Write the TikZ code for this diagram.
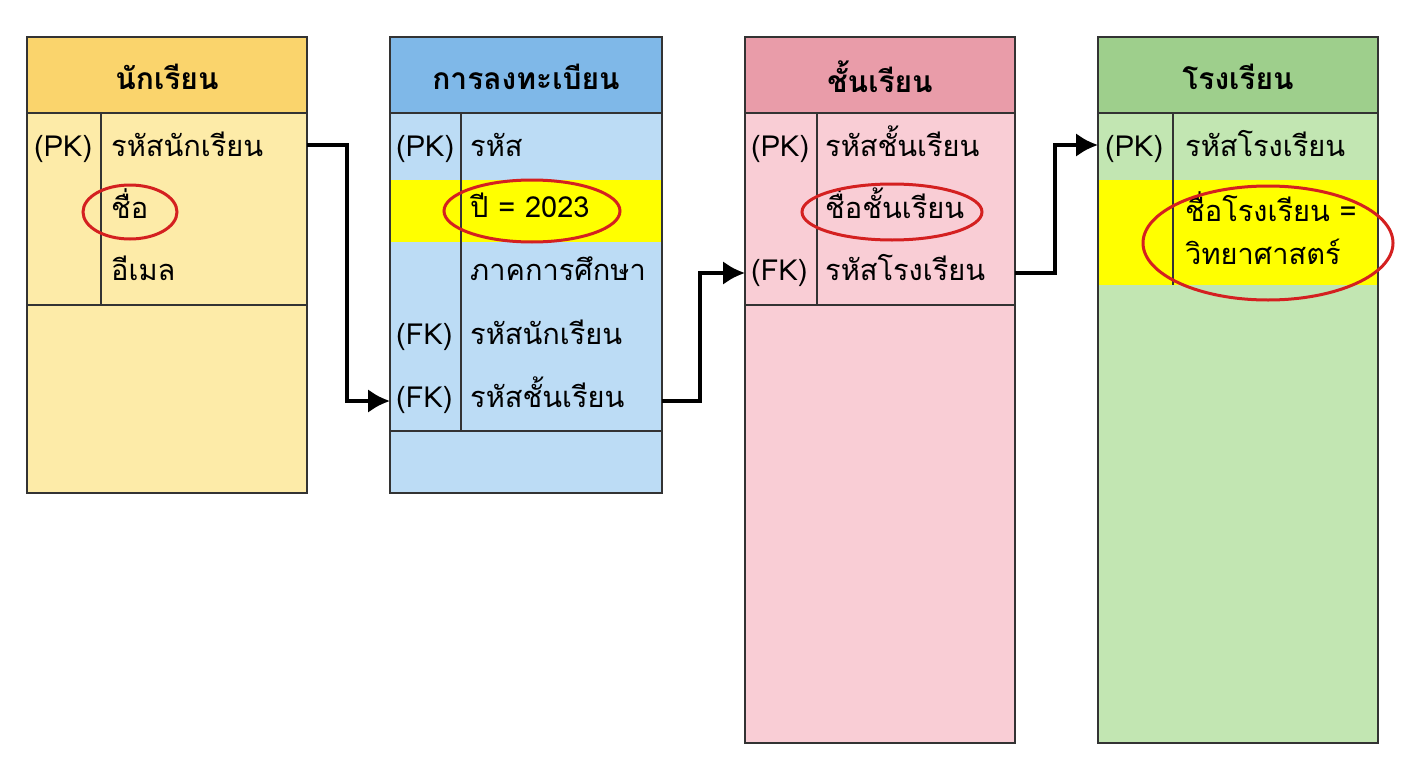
\documentclass[tikz,border=0pt]{standalone}
\usepackage{fontspec}
\setmainfont[Script=Thai]{Loma}
\usetikzlibrary{positioning,arrows.meta}
\definecolor{stuhead}{HTML}{FAD46C}
\definecolor{stubody}{HTML}{FDEBA8}
\definecolor{reghead}{HTML}{7FB8E8}
\definecolor{regbody}{HTML}{BCDCF5}
\definecolor{clshead}{HTML}{E99CA9}
\definecolor{clsbody}{HTML}{F9CDD5}
\definecolor{schhead}{HTML}{9ECF8C}
\definecolor{schbody}{HTML}{C2E6B2}
\definecolor{hilite}{HTML}{FFFF00}
\definecolor{ringred}{HTML}{D42020}
\tikzset{
  box/.style={draw=black!80, line width=1.2pt},
  title/.style={font=\fontsize{30}{32}\selectfont\bfseries},
  field/.style={anchor=west, inner sep=0pt, text height=21pt, text depth=9pt, font=\fontsize{29}{32}\selectfont},
  ring/.style={draw=ringred, line width=3pt},
  link/.style={line width=4.5pt, -{Latex[length=22pt,width=24pt]}}
}
\begin{document}
\begin{tikzpicture}[x=1pt,y=-1pt]
\useasboundingbox (0,0) rectangle (1408,768);

% student
\fill[stubody] (27,113) rectangle (307,493);
\fill[stuhead] (27,37) rectangle (307,113);
\draw[box] (27,37) rectangle (307,493);
\draw[box] (27,113) -- (307,113) (27,305) -- (307,305) (101,113) -- (101,305);
\node[title] (stu) at (167,77) {นักเรียน};
\node[field] (stupk) at (34,150) {(PK)};
\node[field] (stuid) at (111,150) {รหัสนักเรียน};
\node[field] (stuname) at (111,212) {ชื่อ};
\node[field] (stumail) at (111,274) {อีเมล};
\draw[ring] (130,212) ellipse (47 and 27);

% registration
\fill[regbody] (390,113) rectangle (662,493);
\fill[hilite] (390,180) rectangle (662,242);
\fill[reghead] (390,37) rectangle (662,113);
\draw[box] (390,37) rectangle (662,493);
\draw[box] (390,113) -- (662,113) (390,431) -- (662,431) (461,113) -- (461,431);
\node[title] (reg) at (526,77) {การลงทะเบียน};
\node[field] (regpk) at (396,150) {(PK)};
\node[field] (regid) at (470,150) {รหัส};
\node[field] (regyear) at (470,211) {ปี = 2023};
\node[field] (regterm) at (470,274) {ภาคการศึกษา};
\node[field] (regfk1) at (396,338) {(FK)};
\node[field] (regstu) at (470,338) {รหัสนักเรียน};
\node[field] (regfk2) at (396,401) {(FK)};
\node[field] (regcls) at (470,401) {รหัสชั้นเรียน};
\draw[ring] (532,211) ellipse (88 and 31);

% class
\fill[clsbody] (745,113) rectangle (1015,743);
\fill[clshead] (745,37) rectangle (1015,113);
\draw[box] (745,37) rectangle (1015,743);
\draw[box] (745,113) -- (1015,113) (745,305) -- (1015,305) (817,113) -- (817,305);
\node[title] (cls) at (880,77) {ชั้นเรียน};
\node[field] (clspk) at (751,150) {(PK)};
\node[field] (clsid) at (825,150) {รหัสชั้นเรียน};
\node[field] (clsname) at (825,212) {ชื่อชั้นเรียน};
\node[field] (clsfk) at (751,274) {(FK)};
\node[field] (clssch) at (825,274) {รหัสโรงเรียน};
\draw[ring] (892,212) ellipse (90 and 28);

% school
\fill[schbody] (1098,113) rectangle (1378,743);
\fill[hilite] (1098,180) rectangle (1378,285);
\fill[schhead] (1098,37) rectangle (1378,113);
\draw[box] (1098,37) rectangle (1378,743);
\draw[box] (1098,113) -- (1378,113) (1173,113) -- (1173,285);
\node[title] (sch) at (1238,77) {โรงเรียน};
\node[field] (schpk) at (1105,150) {(PK)};
\node[field] (schid) at (1185,150) {รหัสโรงเรียน};
\node[field] (schname) at (1185,215) {ชื่อโรงเรียน =};
\node[field] (schval) at (1185,258) {วิทยาศาสตร์};
\draw[ring] (1268,243) ellipse (125 and 57);

% links
\coordinate (a1) at (307,145);
\coordinate (a2) at (390,401);
\coordinate (b1) at (662,401);
\coordinate (b2) at (745,273);
\coordinate (c1) at (1015,273);
\coordinate (c2) at (1098,145);
\draw[link] (a1) -- (347,145) -- (347,401) -- (a2);
\draw[link] (b1) -- (700,401) -- (700,273) -- (b2);
\draw[link] (c1) -- (1055,273) -- (1055,145) -- (c2);
\end{tikzpicture}
\end{document}
